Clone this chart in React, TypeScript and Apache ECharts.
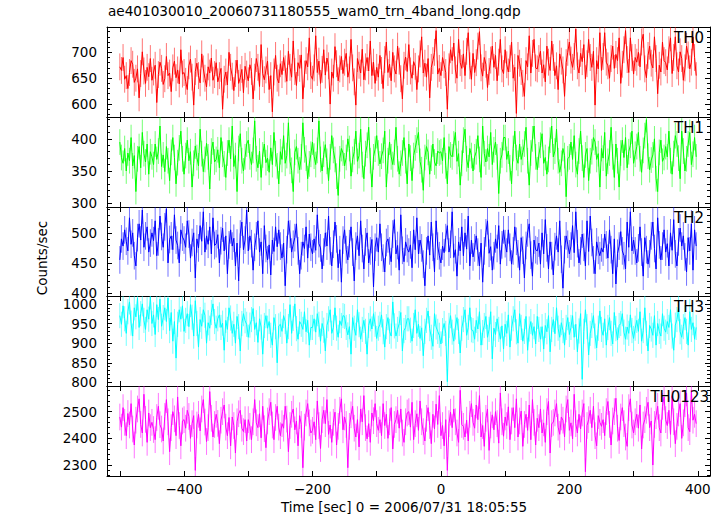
import React, { useEffect, useRef } from 'react';
import * as echarts from 'echarts';

const TITLE = 'ae401030010_20060731180555_wam0_trn_4band_long.qdp';
const X_TITLE = 'Time [sec] 0 = 2006/07/31 18:05:55';
const Y_TITLE = 'Counts/sec';

const TIME_START = -500;
const TIME_STEP = 2.5;
const X_MIN = -520;
const X_MAX = 419;
const X_LABEL_STEP = 200;

const PANEL_NAMES = ['TH0', 'TH1', 'TH2', 'TH3', 'TH0123'];
const PANEL_COLORS = ['#ff0000', '#00ff00', '#0000ff', '#00ffff', '#ff00ff'];
const Y_MIN = [575, 294, 395, 791, 2259];
const Y_MAX = [749, 434, 543, 1020, 2596];
const Y_SPLIT = [3, 3, 3, 5, 3];
const Y_LABEL_STEP = [50, 50, 50, 50, 100];
const ERRORS = [26, 20, 23, 32, 50];

const TH0 = [
  672, 665, 690, 648, 655, 630, 661, 684, 677, 642, 650, 668, 612, 659, 701, 664, 640, 671, 653, 688,
  646, 662, 675, 603, 657, 681, 669, 638, 649, 692, 655, 660, 624, 670, 683, 651, 666, 639, 705, 658,
  661, 644, 628, 674, 687, 652, 598, 663, 679, 655, 641, 697, 668, 650, 633, 672, 660, 689, 646, 657,
  680, 643, 655, 669, 590, 648, 662, 637, 700, 671, 654, 626, 659, 685, 640, 651, 667, 622, 673, 658,
  645, 676, 663, 610, 652, 688, 671, 634, 715, 659, 647, 666, 683, 628, 655, 585, 662, 694, 650, 641,
  678, 657, 690, 668, 644, 702, 671, 652, 722, 663, 636, 680, 669, 695, 610, 658, 684, 672, 728, 655,
  648, 670, 732, 661, 683, 640, 667, 705, 656, 689, 674, 600, 662, 650, 711, 678, 645, 668, 692, 659,
  681, 698, 652, 666, 725, 670, 643, 598, 688, 675, 660, 706, 647, 672, 690, 664, 722, 655, 681, 640,
  671, 652, 694, 665, 630, 686, 720, 661, 677, 645, 700, 668, 658, 712, 683, 649, 610, 675, 691, 663,
  715, 664, 650, 682, 673, 628, 668, 697, 730, 660, 679, 652, 688, 612, 671, 684, 700, 742, 658, 669,
  655, 690, 676, 661, 590, 672, 705, 684, 718, 666, 650, 725, 680, 669, 697, 655, 702, 738, 674, 648,
  698, 661, 680, 712, 740, 670, 654, 690, 677, 632, 663, 685, 712, 671, 694, 645, 681, 725, 668, 659,
  705, 676, 662, 688, 720, 650, 671, 582, 694, 679, 663, 640, 615, 684, 672, 732, 660, 698, 725, 670,
  668, 688, 702, 660, 676, 643, 712, 681, 665, 722, 690, 655, 674, 628, 697, 683, 666, 615, 680, 700,
  720, 685, 671, 692, 745, 674, 660, 698, 682, 715, 649, 678, 725, 690, 671, 702, 598, 684, 668, 738,
  665, 692, 738, 681, 674, 650, 688, 712, 669, 696, 684, 728, 640, 677, 705, 742, 686, 661, 728, 690,
  658, 690, 681, 700, 672, 720, 735, 668, 651, 694, 712, 679, 670, 730, 688, 620, 675, 662, 720, 684,
  680, 666, 705, 728, 659, 690, 730, 674, 662, 701, 688, 646, 670, 712, 695, 668, 681, 730, 690, 655,
];

const TH1 = [
  395, 371, 362, 385, 350, 378, 366, 402, 358, 374, 318, 369, 388, 355, 410, 377, 364, 392, 345, 380,
  372, 360, 392, 368, 381, 420, 357, 375, 349, 388, 366, 335, 379, 402, 371, 330, 363, 386, 412, 369,
  345, 374, 398, 366, 380, 325, 362, 389, 371, 358, 415, 377, 349, 368, 393, 372, 322, 381, 395, 364,
  368, 383, 355, 402, 376, 361, 340, 378, 398, 369, 420, 357, 374, 318, 385, 408, 366, 350, 372, 392,
  398, 372, 360, 382, 428, 369, 355, 381, 340, 375, 392, 363, 370, 348, 386, 360, 410, 377, 358, 330,
  380, 368, 405, 362, 374, 425, 365, 351, 318, 379, 388, 366, 352, 372, 425, 383, 370, 338, 361, 376,
  395, 373, 360, 382, 428, 368, 350, 376, 391, 365, 335, 372, 405, 382, 368, 342, 312, 369, 385, 378,
  358, 371, 400, 385, 342, 368, 380, 412, 365, 374, 415, 360, 338, 377, 390, 418, 366, 325, 372, 384,
  405, 378, 361, 373, 382, 412, 325, 366, 395, 372, 360, 379, 418, 369, 345, 362, 378, 402, 366, 330,
  392, 370, 335, 374, 386, 398, 410, 365, 352, 320, 371, 388, 379, 345, 370, 392, 364, 358, 381, 378,
  380, 366, 402, 358, 330, 388, 375, 372, 392, 410, 365, 377, 328, 362, 398, 415, 369, 355, 385, 374,
  350, 372, 380, 405, 368, 340, 420, 377, 364, 385, 372, 410, 360, 383, 395, 372, 315, 366, 375, 402,
  402, 368, 381, 355, 330, 385, 412, 371, 362, 392, 368, 379, 392, 418, 366, 328, 378, 400, 420, 372,
  352, 375, 390, 408, 362, 371, 345, 368, 398, 420, 372, 381, 415, 366, 348, 362, 385, 374, 310, 369,
  372, 395, 368, 405, 360, 345, 381, 412, 370, 340, 375, 385, 335, 366, 380, 402, 395, 368, 377, 325,
  385, 370, 410, 342, 365, 378, 418, 372, 340, 392, 366, 325, 378, 398, 371, 402, 355, 380, 390, 412,
  362, 376, 388, 410, 369, 348, 382, 405, 430, 373, 352, 367, 375, 400, 338, 318, 379, 398, 365, 371,
  388, 372, 412, 366, 345, 377, 405, 392, 370, 338, 412, 381, 350, 369, 392, 410, 360, 376, 402, 372,
];

const TH2 = [
  455, 490, 478, 505, 486, 470, 525, 481, 500, 462, 445, 492, 515, 488, 538, 476, 495, 510, 468, 483,
  500, 487, 520, 462, 485, 528, 494, 476, 510, 540, 450, 489, 495, 472, 530, 488, 479, 450, 505, 493,
  488, 476, 520, 498, 458, 484, 500, 425, 490, 475, 512, 486, 535, 468, 495, 481, 510, 465, 525, 479,
  482, 497, 450, 487, 508, 470, 495, 432, 480, 505, 478, 491, 445, 483, 420, 498, 518, 472, 488, 538,
  470, 495, 482, 438, 476, 495, 520, 468, 485, 432, 512, 474, 455, 480, 430, 488, 469, 510, 477, 505,
  478, 458, 483, 412, 472, 520, 498, 468, 481, 492, 515, 470, 432, 462, 485, 474, 510, 458, 498, 476,
  465, 490, 471, 530, 482, 475, 440, 468, 500, 478, 528, 470, 445, 481, 518, 490, 442, 472, 418, 488,
  505, 472, 455, 482, 510, 468, 420, 478, 495, 462, 520, 474, 440, 485, 500, 450, 470, 489, 410, 476,
  492, 468, 515, 476, 458, 435, 484, 490, 470, 452, 498, 522, 465, 479, 438, 530, 471, 452, 485, 474,
  468, 480, 442, 505, 472, 525, 465, 488, 475, 448, 412, 470, 495, 463, 518, 476, 435, 520, 478, 462,
  450, 478, 467, 492, 512, 468, 481, 535, 459, 472, 428, 485, 470, 510, 462, 500, 473, 528, 445, 488,
  460, 475, 495, 468, 445, 483, 418, 470, 500, 520, 466, 477, 438, 462, 490, 474, 512, 448, 480, 505,
  482, 468, 505, 476, 448, 470, 510, 486, 465, 438, 492, 471, 425, 479, 500, 515, 463, 428, 488, 472,
  470, 483, 448, 500, 465, 522, 475, 440, 485, 462, 430, 477, 495, 468, 520, 456, 408, 472, 495, 481,
  465, 478, 512, 467, 535, 482, 450, 470, 498, 476, 445, 520, 469, 528, 484, 455, 432, 485, 471, 462,
  475, 468, 498, 480, 458, 505, 472, 432, 490, 415, 466, 478, 502, 470, 462, 440, 518, 476, 535, 470,
  488, 470, 450, 475, 510, 468, 428, 492, 472, 448, 465, 495, 518, 474, 440, 525, 480, 455, 478, 505,
  468, 482, 445, 500, 471, 522, 465, 445, 485, 508, 478, 495, 460, 435, 492, 470, 515, 438, 505, 478,
];

const TH3 = [
  970, 948, 995, 962, 925, 980, 1005, 951, 918, 990, 967, 1015, 940, 975, 1000, 958, 935, 985, 961, 1018,
  950, 972, 922, 998, 960, 1012, 943, 965, 990, 955, 1015, 932, 978, 905, 955, 862, 948, 985, 961, 995,
  930, 958, 975, 942, 998, 966, 918, 1008, 950, 890, 960, 943, 985, 971, 900, 952, 938, 978, 1000, 955,
  938, 962, 972, 940, 951, 882, 958, 935, 990, 964, 925, 948, 900, 968, 942, 880, 950, 975, 957, 948,
  915, 946, 960, 988, 935, 952, 902, 962, 941, 872, 945, 970, 938, 955, 920, 895, 965, 942, 850, 944,
  948, 930, 970, 955, 900, 942, 998, 925, 963, 1000, 937, 910, 955, 948, 935, 980, 929, 958, 895, 940,
  940, 962, 928, 975, 948, 905, 950, 933, 880, 945, 962, 985, 925, 940, 990, 938, 915, 957, 945, 970,
  968, 940, 921, 942, 872, 965, 938, 920, 985, 947, 910, 935, 958, 930, 872, 945, 962, 936, 975, 948,
  912, 938, 948, 972, 929, 890, 942, 965, 930, 918, 1005, 944, 918, 935, 950, 978, 880, 932, 940, 962,
  962, 933, 905, 945, 985, 925, 948, 912, 939, 868, 930, 958, 982, 937, 915, 892, 975, 941, 930, 920,
  898, 932, 950, 925, 802, 945, 970, 928, 905, 941, 965, 930, 875, 938, 960, 985, 920, 940, 990, 934,
  932, 910, 958, 936, 980, 895, 927, 945, 968, 915, 935, 980, 860, 938, 922, 962, 935, 910, 944, 885,
  948, 925, 972, 890, 938, 962, 985, 929, 900, 975, 940, 905, 930, 968, 882, 936, 955, 920, 942, 898,
  968, 935, 910, 942, 885, 945, 929, 970, 878, 935, 960, 924, 990, 938, 915, 952, 932, 895, 940, 965,
  922, 940, 970, 915, 948, 878, 931, 975, 808, 930, 985, 942, 870, 925, 945, 970, 918, 888, 938, 982,
  935, 920, 962, 895, 940, 965, 925, 898, 978, 937, 908, 945, 950, 975, 928, 910, 941, 925, 972, 932,
  912, 938, 958, 930, 980, 905, 932, 990, 925, 880, 945, 936, 920, 970, 895, 950, 930, 918, 975, 938,
  928, 955, 940, 985, 918, 882, 946, 960, 988, 929, 915, 942, 965, 930, 895, 980, 935, 952, 910, 940,
];

const TH0123 = [
  2480, 2442, 2515, 2460, 2410, 2493, 2450, 2530, 2435, 2375, 2468, 2510, 2548, 2452, 2420, 2565, 2471, 2385, 2495, 2440,
  2460, 2433, 2395, 2478, 2520, 2451, 2435, 2390, 2482, 2545, 2462, 2350, 2440, 2500, 2473, 2410, 2555, 2448, 2372, 2465,
  2470, 2438, 2505, 2482, 2400, 2455, 2485, 2280, 2450, 2490, 2428, 2510, 2545, 2461, 2388, 2440, 2575, 2475, 2405, 2452,
  2490, 2456, 2380, 2468, 2500, 2525, 2442, 2410, 2478, 2372, 2480, 2448, 2345, 2462, 2492, 2505, 2438, 2425, 2470, 2390,
  2470, 2445, 2395, 2462, 2545, 2458, 2440, 2492, 2402, 2520, 2436, 2365, 2465, 2500, 2535, 2450, 2395, 2478, 2520, 2442,
  2410, 2455, 2438, 2520, 2472, 2350, 2448, 2490, 2510, 2432, 2465, 2372, 2485, 2452, 2290, 2442, 2495, 2530, 2458, 2420,
  2430, 2462, 2395, 2540, 2448, 2362, 2470, 2505, 2455, 2545, 2415, 2450, 2385, 2460, 2498, 2375, 2445, 2505, 2548, 2432,
  2480, 2452, 2290, 2445, 2488, 2520, 2438, 2405, 2470, 2368, 2510, 2462, 2560, 2440, 2398, 2455, 2385, 2495, 2466, 2530,
  2455, 2430, 2470, 2410, 2530, 2448, 2490, 2400, 2462, 2515, 2360, 2452, 2470, 2505, 2438, 2510, 2420, 2385, 2462, 2495,
  2500, 2442, 2535, 2395, 2455, 2492, 2430, 2540, 2462, 2425, 2390, 2475, 2515, 2448, 2380, 2490, 2435, 2528, 2452, 2560,
  2410, 2448, 2372, 2470, 2280, 2455, 2498, 2440, 2510, 2462, 2420, 2385, 2580, 2452, 2445, 2405, 2468, 2390, 2490, 2530,
  2460, 2438, 2525, 2470, 2560, 2405, 2448, 2370, 2475, 2510, 2355, 2450, 2488, 2432, 2500, 2455, 2382, 2570, 2462, 2408,
  2480, 2448, 2518, 2395, 2465, 2515, 2440, 2548, 2405, 2465, 2502, 2370, 2452, 2490, 2430, 2525, 2395, 2545, 2460, 2375,
  2475, 2440, 2510, 2420, 2458, 2385, 2500, 2538, 2345, 2455, 2460, 2495, 2530, 2442, 2415, 2480, 2468, 2405, 2510, 2545,
  2430, 2458, 2398, 2565, 2455, 2420, 2490, 2435, 2495, 2530, 2275, 2448, 2470, 2505, 2440, 2520, 2410, 2372, 2485, 2460,
  2445, 2470, 2410, 2500, 2538, 2452, 2375, 2465, 2500, 2550, 2438, 2392, 2480, 2515, 2455, 2405, 2370, 2515, 2548, 2450,
  2420, 2462, 2490, 2438, 2525, 2360, 2450, 2470, 2505, 2535, 2440, 2465, 2300, 2452, 2485, 2520, 2440, 2420, 2520, 2555,
  2470, 2448, 2505, 2415, 2560, 2462, 2380, 2445, 2495, 2530, 2400, 2458, 2530, 2570, 2440, 2425, 2580, 2468, 2490, 2455,
];

const SERIES_VALUES = [TH0, TH1, TH2, TH3, TH0123];

const FONT = 'DejaVu Sans';
const GRID_LEFT = 107;
const GRID_RIGHT = 13;
const GRID_TOPS = [27, 117, 207, 296, 386];
const GRID_HEIGHTS = [90, 90, 89, 90, 90];

function fmtNum(v: number) {
  return v < 0 ? '\u2212' + String(Math.abs(v)) : String(v);
}

export default function App() {
  const ref = useRef<HTMLDivElement>(null);

  useEffect(() => {
    document.body.style.margin = '0';
    if (!ref.current) return;
    const chart = echarts.init(ref.current, null, { renderer: 'svg' });

    const grid: any[] = [];
    const xAxis: any[] = [];
    const yAxis: any[] = [];
    const series: any[] = [];

    for (let i = 0; i < 5; i++) {
      grid.push({ left: GRID_LEFT, right: GRID_RIGHT, top: GRID_TOPS[i], height: GRID_HEIGHTS[i], containLabel: false });
      ['bottom', 'top'].forEach((pos) => {
        xAxis.push({
          type: 'value',
          gridIndex: i,
          position: pos,
          min: X_MIN,
          max: X_MAX,
          splitNumber: 9,
          axisLine: { show: true, onZero: false, lineStyle: { color: '#000', width: 1 } },
          axisTick: { show: true, inside: true, length: 5, lineStyle: { color: '#000', width: 1 } },
          minorTick: { show: false },
          splitLine: { show: false },
          axisLabel: {
            show: i === 4 && pos === 'bottom',
            margin: 6,
            color: '#000',
            fontSize: 13.5,
            fontFamily: FONT,
            showMinLabel: false,
            showMaxLabel: false,
            formatter: (v: number) => (Math.abs(v % X_LABEL_STEP) < 1e-6 ? fmtNum(v) : ''),
          },
        });
      });
      ['left', 'right'].forEach((pos) => {
        yAxis.push({
          type: 'value',
          gridIndex: i,
          position: pos,
          min: Y_MIN[i],
          max: Y_MAX[i],
          splitNumber: Y_SPLIT[i],
          axisLine: { show: true, onZero: false, lineStyle: { color: '#000', width: 1 } },
          axisTick: { show: true, inside: true, length: 5, lineStyle: { color: '#000', width: 1 } },
          minorTick: { show: true, splitNumber: 5, length: 3, lineStyle: { color: '#000', width: 1 } },
          splitLine: { show: false },
          axisLabel: {
            show: pos === 'left',
            margin: 10,
            color: '#000',
            fontSize: 13.5,
            lineHeight: 11,
            fontFamily: FONT,
            showMinLabel: false,
            showMaxLabel: false,
            formatter: (v: number) => (Math.abs(v % Y_LABEL_STEP[i]) < 1e-6 ? String(v) : ''),
          },
        });
      });

      const color = PANEL_COLORS[i];
      const err = ERRORS[i];
      const data = SERIES_VALUES[i].map((v, k) => [TIME_START + k * TIME_STEP, v]);
      series.push({
        type: 'custom',
        xAxisIndex: i * 2,
        yAxisIndex: i * 2,
        clip: true,
        data,
        renderItem: (params: any, api: any) => {
          const x = api.value(0);
          const y = api.value(1);
          const p1 = api.coord([x, y - err]);
          const p2 = api.coord([x, y + err]);
          return {
            type: 'line',
            shape: { x1: p1[0], y1: p1[1], x2: p2[0], y2: p2[1] },
            style: { stroke: color, lineWidth: 1, opacity: 0.55 },
          };
        },
        silent: true,
      });
      series.push({
        type: 'line',
        xAxisIndex: i * 2,
        yAxisIndex: i * 2,
        data,
        showSymbol: false,
        symbol: 'none',
        clip: true,
        lineStyle: { color, width: 1 },
        silent: true,
      });
    }

    const graphic: any[] = [
      {
        type: 'text',
        left: 108,
        top: 4,
        style: { text: TITLE, fill: '#000', font: `13.6px "${FONT}"` },
      },
      {
        type: 'text',
        x: 42,
        y: 258,
        rotation: Math.PI / 2,
        style: { text: Y_TITLE, fill: '#000', font: `13.5px "${FONT}"`, align: 'center', verticalAlign: 'middle' },
      },
      {
        type: 'text',
        x: 404,
        y: 507,
        style: { text: X_TITLE, fill: '#000', font: `13.5px "${FONT}"`, align: 'center', verticalAlign: 'middle' },
      },
    ];
    PANEL_NAMES.forEach((name, i) => {
      graphic.push({
        type: 'text',
        x: i === 4 ? 709 : 704,
        y: GRID_TOPS[i] + 11,
        z: 100,
        style: { text: name, fill: '#000', font: `15px "${FONT}"`, align: 'right', verticalAlign: 'middle' },
      });
    });

    chart.setOption({
      animation: false,
      backgroundColor: '#fff',
      grid,
      xAxis,
      yAxis,
      series,
      graphic,
    });

    return () => chart.dispose();
  }, []);

  return <div ref={ref} style={{ width: 723, height: 516 }} />;
}
